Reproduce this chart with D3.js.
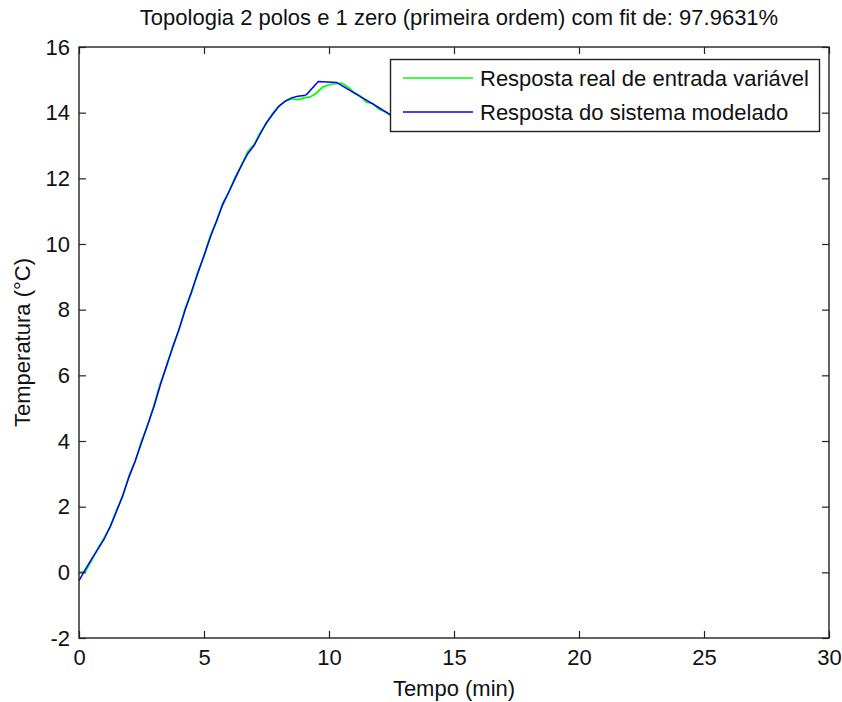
<!DOCTYPE html>
<html>
<head>
<meta charset="utf-8">
<script src="https://cdn.jsdelivr.net/npm/d3@7"></script>
<style>
  html, body { margin: 0; padding: 0; background: #fff; }
  svg text { font-family: "Liberation Sans", Arial, sans-serif; fill: #111; }
</style>
</head>
<body>
<svg id="chart" width="842" height="702"></svg>
<script>
// Measured response (minutes, °C)
const realTime = [0, 0.25, 0.5, 0.75, 1, 1.25, 1.5, 1.75, 2, 2.25, 2.5, 2.75, 3, 3.25, 3.5, 3.75,
  4, 4.25, 4.5, 4.75, 5, 5.25, 5.5, 5.75, 6, 6.25, 6.5, 6.75, 7, 7.25, 7.5, 7.75,
  8, 8.25, 8.5, 8.75, 9, 9.25, 9.5, 9.75, 10, 10.25, 10.5, 10.75, 11, 11.25, 11.5, 11.75,
  12, 12.25, 12.5, 12.75, 13];
const realTemp = [0.0, 0.02, 0.35, 0.72, 1.05, 1.38, 1.9, 2.3, 2.95, 3.38, 4.0, 4.48, 5.1, 5.75, 6.25, 6.9,
  7.38, 8.05, 8.5, 9.15, 9.62, 10.25, 10.68, 11.25, 11.58, 12.05, 12.38, 12.82, 13.02, 13.4, 13.68, 13.98,
  14.2, 14.35, 14.42, 14.4, 14.45, 14.48, 14.6, 14.78, 14.85, 14.88, 14.9, 14.78, 14.62, 14.5, 14.32, 14.28,
  14.1, 14.02, 13.9, 13.85, 13.7];

// Simulated model response (minutes, °C)
const modelTime = [0, 0.25, 0.5, 0.75, 1, 1.25, 1.5, 1.75, 2, 2.25, 2.5, 2.75, 3, 3.25, 3.5, 3.75,
  4, 4.25, 4.5, 4.75, 5, 5.25, 5.5, 5.75, 6, 6.25, 6.5, 6.75, 7, 7.25, 7.5, 7.75,
  8, 8.25, 8.5, 8.75, 9, 9.1, 9.57, 10.3, 10.5, 11, 11.5, 12, 12.37, 12.5, 13];
const modelTemp = [-0.25, 0.08, 0.4, 0.7, 1.0, 1.4, 1.85, 2.35, 2.9, 3.4, 3.95, 4.5, 5.05, 5.7, 6.3, 6.85,
  7.4, 8.0, 8.55, 9.1, 9.65, 10.2, 10.7, 11.2, 11.6, 12.0, 12.4, 12.75, 13.0, 13.35, 13.7, 13.95,
  14.2, 14.35, 14.45, 14.5, 14.52, 14.55, 14.95, 14.92, 14.83, 14.6, 14.38, 14.15, 13.98, 13.92, 13.7];

const xTicks = [0, 5, 10, 15, 20, 25, 30];
const yTicks = [-2, 0, 2, 4, 6, 8, 10, 12, 14, 16];

const titleText = "Topologia 2 polos e 1 zero (primeira ordem) com fit de: 97.9631%";
const xLabel = "Tempo (min)";
const yLabel = "Temperatura (°C)";
const seriesNames = ["Resposta real de entrada variável", "Resposta do sistema modelado"];
const seriesColors = ["#00ff00", "#0000ff"];

const svg = d3.select("#chart");
const plot = { left: 79, right: 829, top: 47, bottom: 638 };
const fontSize = 22;
const tickLen = 7;
const plainNumber = d => String(d);   // keeps an ASCII hyphen for negatives

const x = d3.scaleLinear().domain([0, 30]).range([plot.left, plot.right]);
const y = d3.scaleLinear().domain([-2, 16]).range([plot.bottom, plot.top]);

// Data lines
const line = d3.line().x(d => x(d[0])).y(d => y(d[1]));
const realData = realTime.map((t, i) => [t, realTemp[i]]);
const modelData = modelTime.map((t, i) => [t, modelTemp[i]]);

svg.append("path").datum(realData).attr("d", line)
  .attr("fill", "none").attr("stroke", seriesColors[0]).attr("stroke-width", 1.7);
svg.append("path").datum(modelData).attr("d", line)
  .attr("fill", "none").attr("stroke", seriesColors[1]).attr("stroke-width", 1.5);

// Axes with inward ticks on all four sides
function styleAxis(g) {
  g.select(".domain").remove();
  g.selectAll(".tick line").attr("stroke", "#222").attr("stroke-width", 1.2);
  g.selectAll(".tick text").style("font-size", fontSize + "px")
    .style("font-family", "'Liberation Sans', Arial, sans-serif").attr("fill", "#111");
}

svg.append("g").attr("transform", `translate(0,${plot.bottom})`)
  .call(d3.axisBottom(x).tickValues(xTicks).tickSize(-tickLen).tickPadding(11).tickFormat(plainNumber))
  .call(styleAxis);
svg.append("g").attr("transform", `translate(0,${plot.top})`)
  .call(d3.axisTop(x).tickValues(xTicks).tickSize(-tickLen).tickFormat(""))
  .call(styleAxis);
svg.append("g").attr("transform", `translate(${plot.left},0)`)
  .call(d3.axisLeft(y).tickValues(yTicks).tickSize(-tickLen).tickPadding(9).tickFormat(plainNumber))
  .call(styleAxis);
svg.append("g").attr("transform", `translate(${plot.right},0)`)
  .call(d3.axisRight(y).tickValues(yTicks).tickSize(-tickLen).tickFormat(""))
  .call(styleAxis);

// Axes box
svg.append("rect")
  .attr("x", plot.left).attr("y", plot.top)
  .attr("width", plot.right - plot.left).attr("height", plot.bottom - plot.top)
  .attr("fill", "none").attr("stroke", "#222").attr("stroke-width", 1.4);

// Title and axis labels
svg.append("text").attr("x", (plot.left + plot.right) / 2 + 5).attr("y", 25)
  .attr("text-anchor", "middle").style("font-size", fontSize + "px").text(titleText);
svg.append("text").attr("x", (plot.left + plot.right) / 2).attr("y", 696)
  .attr("text-anchor", "middle").style("font-size", fontSize + "px").text(xLabel);
svg.append("text").attr("transform", `translate(30,${(plot.top + plot.bottom) / 2}) rotate(-90)`)
  .attr("text-anchor", "middle").style("font-size", fontSize + "px").text(yLabel);

// Legend
const legend = svg.append("g");
legend.append("rect").attr("x", 390.5).attr("y", 59.5).attr("width", 429).attr("height", 72)
  .attr("fill", "#fff").attr("stroke", "#222").attr("stroke-width", 1.4);
const rowY = [78, 112];
seriesNames.forEach((name, i) => {
  legend.append("line").attr("x1", 403).attr("x2", 473).attr("y1", rowY[i]).attr("y2", rowY[i])
    .attr("stroke", seriesColors[i]).attr("stroke-width", 1.5);
  legend.append("text").attr("x", 480).attr("y", rowY[i]).attr("dy", "0.35em")
    .style("font-size", fontSize + "px").text(name);
});
</script>
</body>
</html>
